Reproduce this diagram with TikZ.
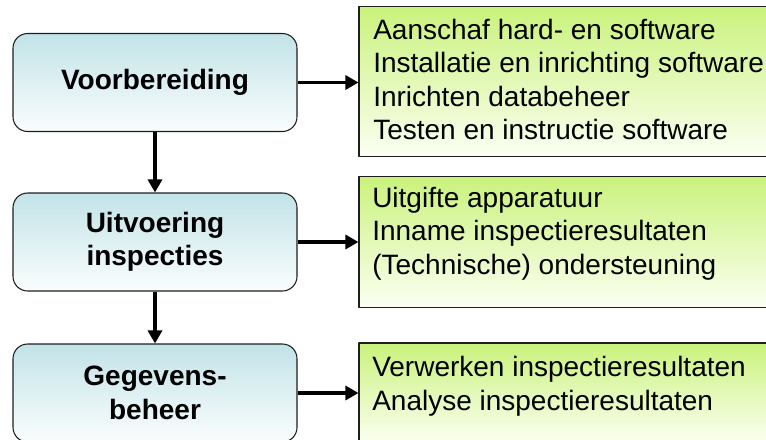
\documentclass[tikz,border=0pt]{standalone}
\usepackage{fontspec}
\setmainfont{Liberation Sans}
\usetikzlibrary{arrows.meta}
\definecolor{stagetop}{RGB}{194,227,232}
\definecolor{stagebot}{RGB}{250,253,253}
\definecolor{tasktop}{RGB}{202,242,124}
\definecolor{taskbot}{RGB}{251,255,242}
\definecolor{edge}{RGB}{30,30,30}
\tikzset{
  every picture/.style={line join=round, >={Triangle[length=9.75pt,width=10.5pt]}},
  stagebox/.style={draw=edge, line width=0.8pt, rounded corners=11pt,
    top color=stagetop, bottom color=stagebot,
    minimum width=213pt, minimum height=73.5pt, align=center,
    font=\fontsize{21}{25}\selectfont\bfseries},
  taskbox/.style={draw=edge, line width=0.8pt,
    top color=tasktop, bottom color=taskbot, minimum width=315.75pt},
  tasktext/.style={anchor=north west, inner sep=0pt, align=left,
    font=\fontsize{21}{25.2}\selectfont},
  flow/.style={->, line width=2.4pt},
}

\begin{document}
\begin{tikzpicture}[x=0.75pt,y=-0.75pt]
\useasboundingbox (0,0) rectangle (766,439);
\clip (0,0) rectangle (766,439);
% stages
\node[stagebox] (v1) at (155,82.5) {Voorbereiding};
\node[stagebox] (v2) at (155,242) {Uitvoering\\inspecties};
\node[stagebox] (v3) at (155,393) {Gegevens-\\beheer};
% tasks
\node[taskbox, minimum height=112pt] (r1) at (569.5,81.5) {};
\node[taskbox, minimum height=98pt] (r2) at (569.5,242) {};
\node[taskbox, minimum height=75pt] (r3) at (569.5,393) {};
\node[tasktext] (t1) at (373,18.6) {Aanschaf hard- en software\\Installatie en inrichting software\\Inrichten databeheer\\Testen en instructie software};
\node[tasktext] (t2) at (372,186.6) {Uitgifte apparatuur\\Inname inspectieresultaten\\(Technische) ondersteuning};
\node[tasktext] (t3) at (372,356) {Verwerken inspectieresultaten\\Analyse inspectieresultaten};
% arrows
\draw[flow] (v1.south) -- (v2.north);
\draw[flow] (v2.south) -- (v3.north);
\draw[flow] (v1.east) -- (v1.east -| r1.west);
\draw[flow] (v2.east) -- (r2.west);
\draw[flow] (v3.east) -- (r3.west);
\end{tikzpicture}
\end{document}
